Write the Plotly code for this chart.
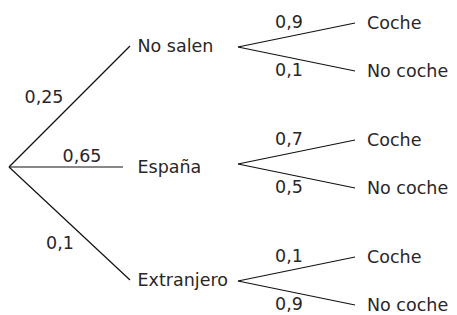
import plotly.graph_objects as go

# Data
level1_labels = ["No salen", "España", "Extranjero"]
level1_probs = ["0,25", "0,65", "0,1"]
level2_labels = ["Coche", "No coche"]
level2_probs = [["0,9", "0,1"], ["0,7", "0,5"], ["0,1", "0,9"]]

# Layout geometry (pixel-like coordinates)
root = (9, 167)
l1_y = [46, 167, 280]
l1_end_x = [130, 123, 130]
l1_text_x = 137.5
fork_x = 238
fork_y = [47, 164, 281]
l2_end_x = 355
l2_dy = [-24, 24]
l2_text_x = 367
p2_x = 289
p1_pos = [(44, 97), (82, 156), (60, 243)]
TDY = 2  # vertical nudge so text centres match

FONT = "DejaVu Sans"
FS = 17.5
TXT = "#2a2627"

fig = go.Figure()

lx, ly = [], []
for i in range(3):
    lx += [root[0], l1_end_x[i], None]
    ly += [root[1], l1_y[i], None]
    for j in range(2):
        lx += [fork_x, l2_end_x, None]
        ly += [fork_y[i], fork_y[i] + l2_dy[j], None]
fig.add_trace(go.Scatter(x=lx, y=ly, mode="lines",
                         line=dict(color="#111111", width=1.2),
                         hoverinfo="skip", showlegend=False))

# level-1 labels
fig.add_trace(go.Scatter(x=[l1_text_x] * 3, y=[y + TDY for y in l1_y], mode="text",
                         text=level1_labels, textposition="middle right",
                         textfont=dict(family=FONT, size=FS, color=TXT),
                         showlegend=False, hoverinfo="skip"))
# level-1 probs
fig.add_trace(go.Scatter(x=[p[0] for p in p1_pos], y=[p[1] + TDY for p in p1_pos],
                         mode="text", text=level1_probs, textposition="middle center",
                         textfont=dict(family=FONT, size=FS, color=TXT),
                         showlegend=False, hoverinfo="skip"))
# level-2 labels and probs
tx, ty, tt, px, py, pt = [], [], [], [], [], []
for i in range(3):
    for j in range(2):
        tx.append(l2_text_x); ty.append(fork_y[i] + l2_dy[j] + TDY); tt.append(level2_labels[j])
        px.append(p2_x); py.append(fork_y[i] + l2_dy[j] - 1 + TDY); pt.append(level2_probs[i][j])
fig.add_trace(go.Scatter(x=tx, y=ty, mode="text", text=tt, textposition="middle right",
                         textfont=dict(family=FONT, size=FS, color=TXT),
                         showlegend=False, hoverinfo="skip"))
fig.add_trace(go.Scatter(x=px, y=py, mode="text", text=pt, textposition="middle center",
                         textfont=dict(family=FONT, size=FS, color=TXT),
                         showlegend=False, hoverinfo="skip"))

# The page body has an 8px default margin: the figure covers the visible
# window area from (8, 8) onward, so its axes map to those pixels.
OFF = 8
fig.update_layout(
    width=457 - OFF, height=315 - OFF,
    margin=dict(l=0, r=0, t=0, b=0),
    paper_bgcolor="white", plot_bgcolor="white",
    xaxis=dict(range=[OFF, 457], visible=False, fixedrange=True),
    yaxis=dict(range=[315, OFF], visible=False, fixedrange=True),
)
fig.write_html("out.html", config={"displayModeBar": False})
